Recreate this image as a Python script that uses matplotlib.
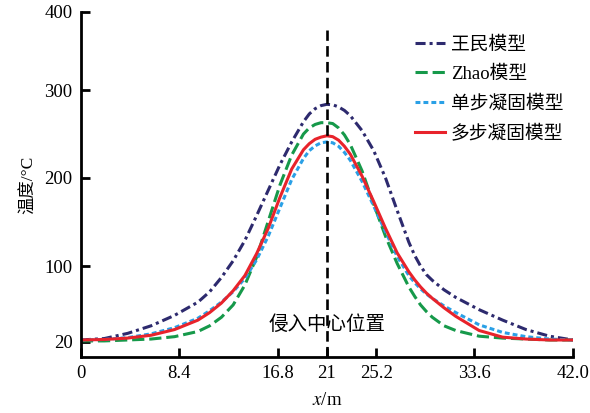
import numpy as np
import matplotlib
matplotlib.use('Agg')
import matplotlib.pyplot as plt

plt.rcParams['font.family'] = ['Liberation Serif', 'Noto Sans CJK SC']
plt.rcParams['mathtext.fontset'] = 'stix'

# data
x = [0, 2, 4, 6, 8, 10, 11, 12, 13, 14, 15, 16, 17, 18, 19, 19.5, 20, 20.5, 21,
     21.5, 22, 22.5, 23, 24, 25, 26, 27, 28, 28.5, 29, 29.5, 30, 31, 32, 34, 36, 38, 40, 42]
wangmin = [22, 23.5, 29, 37, 48, 62, 73, 88, 106, 129, 157, 186, 215, 241, 264, 273, 279, 282.5, 284,
           283.5, 281, 277, 271, 254, 231, 200, 163, 127, 112, 100, 91, 85, 75, 67, 54, 43, 33, 26, 22]
zhao = [21, 21, 22, 23, 25.5, 31, 37, 46, 59, 80, 110, 151, 192, 226, 250, 257, 261, 263, 263,
        262, 257, 249, 238, 208, 170, 134, 103, 78, 68, 59, 52, 46, 37, 32, 26, 24, 23, 22, 22]
single = [22, 22.5, 24.5, 28.5, 35, 45, 53, 62, 73, 87, 107, 134, 166, 198, 222, 231, 236.5, 240, 241,
          240, 236, 229, 220, 196, 168, 139, 111, 90, 82.5, 76, 70.5, 66, 58, 51, 38, 30, 25.5, 23, 22]
multi = [22, 22.5, 24, 27, 33, 43, 51, 61, 74, 90, 114, 143, 178, 210, 232, 239, 244, 246.5, 248,
         247, 243, 236, 227, 202, 173, 143, 115, 94, 85.5, 78, 71.5, 66, 56, 47, 32, 25, 23, 22, 22]

labels = ['王民模型', 'Zhao模型', '单步凝固模型', '多步凝固模型']
xticks = [0, 8.4, 16.8, 21, 25.2, 33.6, 42.0]
xticklabels = ['0', '8.4', '16.8', '21', '25.2', '33.6', '42.0']
yticks = [20, 100, 200, 300, 400]

# the y axis of the original is not evenly spaced
VT = np.array([20, 100, 200, 300, 400], dtype=float)
PT = np.array([0, 75.7, 164, 251.4, 329.7])


def fwd(v):
    v = np.asarray(v, dtype=float)
    return np.where(v < 20, (v - 20) * 0.946, np.interp(v, VT, PT))


def inv(p):
    p = np.asarray(p, dtype=float)
    return np.where(p < 0, 20 + p / 0.946, np.interp(p, PT, VT))


fig = plt.figure(figsize=(5.9, 4.13), dpi=100)
ax = fig.add_axes([0.137, 0.136, 0.834, 0.835])
ax.set_yscale('function', functions=(fwd, inv))

ax.plot(x, wangmin, color='#2d2a6e', lw=2.2, linestyle=(0, (3.3, 1.3, 1, 1.3)), label=labels[0])
ax.plot(x, zhao, color='#16994a', lw=2.2, linestyle=(0, (4, 1.6)), label=labels[1])
ax.plot(x, single, color='#2aa0e6', lw=2.2, linestyle=(0, (1.6, 1.0)), label=labels[2])
ax.plot(x, multi, color='#e8232b', lw=2.2, label=labels[3])

ax.set_xlim(0, 42)
ax.set_ylim(4.2, 400)
ax.vlines(21, 4.2, 377, color='black', lw=1.9, linestyles=(0, (4, 2)), clip_on=False)

ax.text(21, 38, '侵入中心位置', ha='center', va='center', fontsize=14)

ax.set_xticks(xticks)
ax.set_xticklabels(xticklabels)
ax.set_yticks(yticks)
ax.set_yticklabels([str(t) for t in yticks])
ax.minorticks_off()
ax.tick_params(direction='in', length=6.5, width=2, labelsize=13.5, pad=6)

for s in ['top', 'right']:
    ax.spines[s].set_visible(False)
for s in ['left', 'bottom']:
    ax.spines[s].set_linewidth(2)

ax.set_xlabel(r'$\mathit{x}$/m', fontsize=13.5, labelpad=7)
ax.set_ylabel('温度/°C', fontsize=12.5, labelpad=5)

ax.legend(loc='upper left', bbox_to_anchor=(0.679, 0.929), frameon=False,
          fontsize=13.5, handlelength=1.6, handletextpad=0.3, labelspacing=0.63,
          borderpad=0, borderaxespad=0)

fig.savefig('out.png', dpi=100)
